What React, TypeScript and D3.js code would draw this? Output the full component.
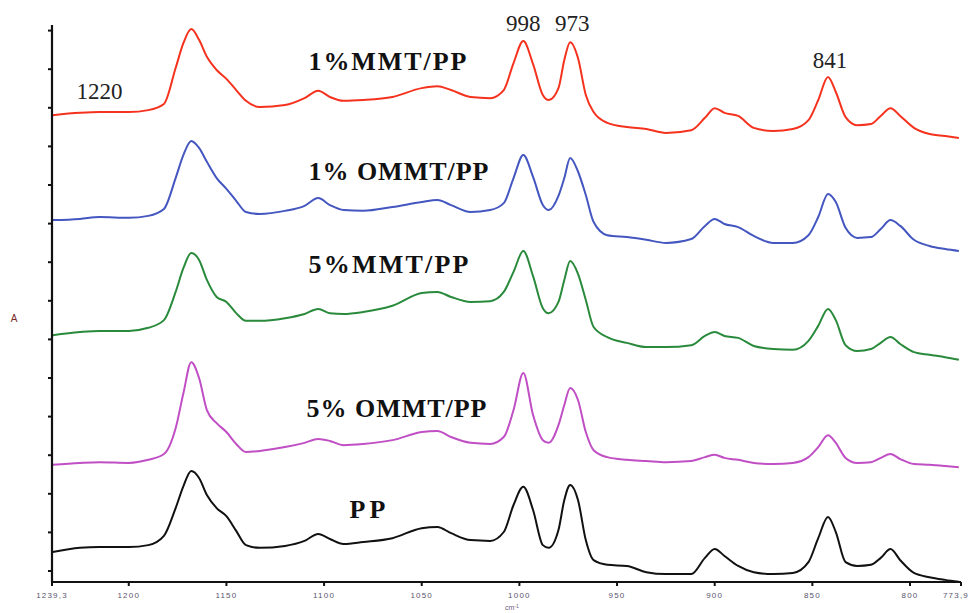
import React from "react";
import * as d3 from "d3";

// wavenumber grid (cm-1), shared by all spectra
const wavenumbers = [
  1239, 1225, 1215, 1200, 1190, 1182, 1176, 1172, 1168, 1164,
  1160, 1155, 1150, 1145, 1140, 1133, 1120, 1110, 1103, 1097,
  1090, 1080, 1065, 1050, 1042, 1035, 1025, 1015, 1008, 1003,
  998, 993, 988, 985, 980, 977, 974, 970, 966, 962,
  955, 945, 935, 925, 912, 905, 900, 895, 888, 880,
  870, 860, 852, 847, 842, 838, 833, 827, 820, 815,
  810, 805, 798, 790, 782, 775,
];

// absorbance (stacked, offsets included)
const mmt1 = [
  1.181, 1.187, 1.189, 1.189, 1.194, 1.21, 1.303, 1.368, 1.404, 1.376,
  1.332, 1.298, 1.275, 1.246, 1.218, 1.202, 1.207, 1.225, 1.244, 1.228,
  1.218, 1.22, 1.228, 1.251, 1.256, 1.246, 1.228, 1.225, 1.246, 1.316,
  1.373, 1.313, 1.233, 1.22, 1.251, 1.324, 1.37, 1.329, 1.233, 1.189,
  1.161, 1.15, 1.145, 1.135, 1.142, 1.174, 1.199, 1.187, 1.179, 1.148,
  1.14, 1.145, 1.168, 1.22, 1.28, 1.241, 1.176, 1.155, 1.158, 1.179,
  1.199, 1.179, 1.148, 1.132, 1.127, 1.122,
];
const ommt1 = [
  0.909, 0.912, 0.917, 0.915, 0.92, 0.938, 1.018, 1.078, 1.114, 1.096,
  1.06, 1.018, 0.99, 0.959, 0.93, 0.925, 0.933, 0.946, 0.966, 0.948,
  0.935, 0.933, 0.943, 0.956, 0.961, 0.948, 0.93, 0.935, 0.953, 1.018,
  1.078, 1.021, 0.948, 0.935, 0.972, 1.018, 1.07, 1.035, 0.974, 0.904,
  0.87, 0.865, 0.858, 0.85, 0.86, 0.894, 0.912, 0.899, 0.891, 0.868,
  0.85, 0.85, 0.87, 0.917, 0.977, 0.956, 0.889, 0.863, 0.865, 0.886,
  0.909, 0.894, 0.858, 0.842, 0.834, 0.829,
];
const mmt5 = [
  0.611, 0.619, 0.622, 0.622, 0.63, 0.65, 0.723, 0.785, 0.824, 0.806,
  0.754, 0.71, 0.697, 0.668, 0.648, 0.648, 0.655, 0.666, 0.679, 0.668,
  0.666, 0.671, 0.687, 0.72, 0.723, 0.71, 0.697, 0.699, 0.723, 0.775,
  0.829, 0.764, 0.681, 0.668, 0.697, 0.754, 0.803, 0.77, 0.702, 0.632,
  0.606, 0.591, 0.58, 0.58, 0.585, 0.609, 0.619, 0.609, 0.604, 0.583,
  0.575, 0.573, 0.596, 0.635, 0.679, 0.65, 0.585, 0.57, 0.575, 0.591,
  0.606, 0.588, 0.567, 0.56, 0.554, 0.547,
];
const ommt5 = [
  0.275, 0.28, 0.282, 0.28, 0.288, 0.303, 0.37, 0.461, 0.541, 0.5,
  0.417, 0.383, 0.36, 0.329, 0.308, 0.311, 0.321, 0.332, 0.342, 0.337,
  0.326, 0.329, 0.339, 0.36, 0.363, 0.347, 0.332, 0.329, 0.347, 0.417,
  0.513, 0.404, 0.339, 0.332, 0.378, 0.43, 0.474, 0.443, 0.36, 0.313,
  0.295, 0.288, 0.285, 0.282, 0.285, 0.295, 0.301, 0.293, 0.288, 0.28,
  0.277, 0.28, 0.295, 0.321, 0.352, 0.332, 0.293, 0.28, 0.282, 0.293,
  0.303, 0.29, 0.277, 0.275, 0.272, 0.269,
];
const pp = [
  0.049, 0.06, 0.062, 0.062, 0.067, 0.091, 0.163, 0.22, 0.259, 0.241,
  0.197, 0.163, 0.142, 0.104, 0.067, 0.06, 0.065, 0.078, 0.096, 0.083,
  0.07, 0.075, 0.085, 0.111, 0.114, 0.098, 0.08, 0.078, 0.101, 0.171,
  0.218, 0.158, 0.067, 0.06, 0.106, 0.184, 0.223, 0.184, 0.08, 0.028,
  0.016, 0.013, -0.003, -0.008, -0.008, 0.034, 0.057, 0.039, 0.013, -0.003,
  -0.008, -0.005, 0.023, 0.085, 0.14, 0.101, 0.023, 0.013, 0.016, 0.034,
  0.057, 0.028, -0.005, -0.016, -0.023, -0.028,
];

const seriesNames = ["1%MMT/PP", "1% OMMT/PP", "5%MMT/PP", "5% OMMT/PP", "PP"];
const seriesColors = ["#f5321e", "#4456c0", "#2a8a3c", "#c04ec4", "#111111"];
const seriesValues = [mmt1, ommt1, mmt5, ommt5, pp];

// label anchor points: [wavenumber, absorbance] (left edge, baseline)
const nameAnchors: [number, number][] = [
  [1108, 1.297], [1108, 1.013], [1108, 0.772], [1109, 0.399], [1087, 0.137],
];
const nameWidths = [158, 180, 160, 180, 36];

const peakLabels = ["1220", "998", "973", "841"];
const peakAnchors: [number, number][] = [
  [1215, 1.223], [998, 1.4], [973, 1.4], [841, 1.303],
];

const xTickValues = [1239.3, 1200, 1150, 1100, 1050, 1000, 950, 900, 850, 800, 773.9];
const xTickLabels = ["1239,3", "1200", "1150", "1100", "1050", "1000", "950", "900", "850", "800", "773,9"];
const yTickValues = d3.range(0, 1.45, 0.1);

const W = 971;
const H = 613;

const App: React.FC = () => {
  const x = d3.scaleLinear().domain([1239.3, 773.9]).range([52, 961]);
  const y = d3.scaleLinear().domain([-0.0285, 1.4145]).range([582, 25]);

  const line = d3
    .line<number>()
    .x((_, i) => x(wavenumbers[i]))
    .y((d) => y(d))
    .curve(d3.curveMonotoneX);

  const last = xTickValues.length - 1;

  return (
    <svg
      width={W}
      height={H}
      style={{ position: "absolute", left: 0, top: 0, background: "#fff" }}
    >
      {/* spectra */}
      {seriesValues.map((vals, k) => (
        <path
          key={k}
          d={line(vals) || ""}
          fill="none"
          stroke={seriesColors[k]}
          strokeWidth={2}
          strokeLinejoin="round"
        />
      ))}

      {/* axes */}
      <line x1={x(1239.3)} x2={x(1239.3)} y1={y(1.4145)} y2={y(-0.0285)} stroke="#111" strokeWidth={2.2} />
      <line x1={x(1239.3)} x2={x(773.9)} y1={y(-0.0285)} y2={y(-0.0285)} stroke="#111" strokeWidth={2.2} />
      {yTickValues.map((v, i) => (
        <line key={i} x1={x(1239.3) - 4} x2={x(1239.3)} y1={y(v)} y2={y(v)} stroke="#111" strokeWidth={2} />
      ))}
      {xTickValues.map((v, i) => (
        <g key={i}>
          <line x1={x(v)} x2={x(v)} y1={y(-0.0285)} y2={y(-0.0285) + 4} stroke="#111" strokeWidth={2} />
          <text
            x={i === last ? W - 2 : x(v)}
            y={598}
            textAnchor={i === last ? "end" : "middle"}
            fontFamily="Arial, Liberation Sans, sans-serif"
            fontSize={8}
            letterSpacing={1.2}
            fill="#5a5470"
          >
            {xTickLabels[i]}
          </text>
        </g>
      ))}
      <text x={505} y={610} fontFamily="Arial, Liberation Sans, sans-serif" fontSize={7} fill="#6a6480">
        cm<tspan dy={-2} fontSize={5}>-1</tspan>
      </text>
      <text x={14} y={322} textAnchor="middle" fontFamily="Arial, Liberation Sans, sans-serif" fontSize={10} fill="#7a2a2a">
        A
      </text>

      {/* sample names */}
      {seriesNames.map((name, k) => (
        <text
          key={k}
          x={x(nameAnchors[k][0])}
          y={y(nameAnchors[k][1])}
          fontFamily="Liberation Serif, Times New Roman, serif"
          fontWeight="bold"
          fontSize={26}
          textLength={nameWidths[k]}
          lengthAdjust="spacing"
          fill="#111"
        >
          {name}
        </text>
      ))}

      {/* peak positions */}
      {peakLabels.map((t, k) => (
        <text
          key={k}
          x={x(peakAnchors[k][0])}
          y={y(peakAnchors[k][1])}
          textAnchor="middle"
          fontFamily="Liberation Serif, Times New Roman, serif"
          fontSize={23}
          fill="#222"
        >
          {t}
        </text>
      ))}
    </svg>
  );
};

export default App;
